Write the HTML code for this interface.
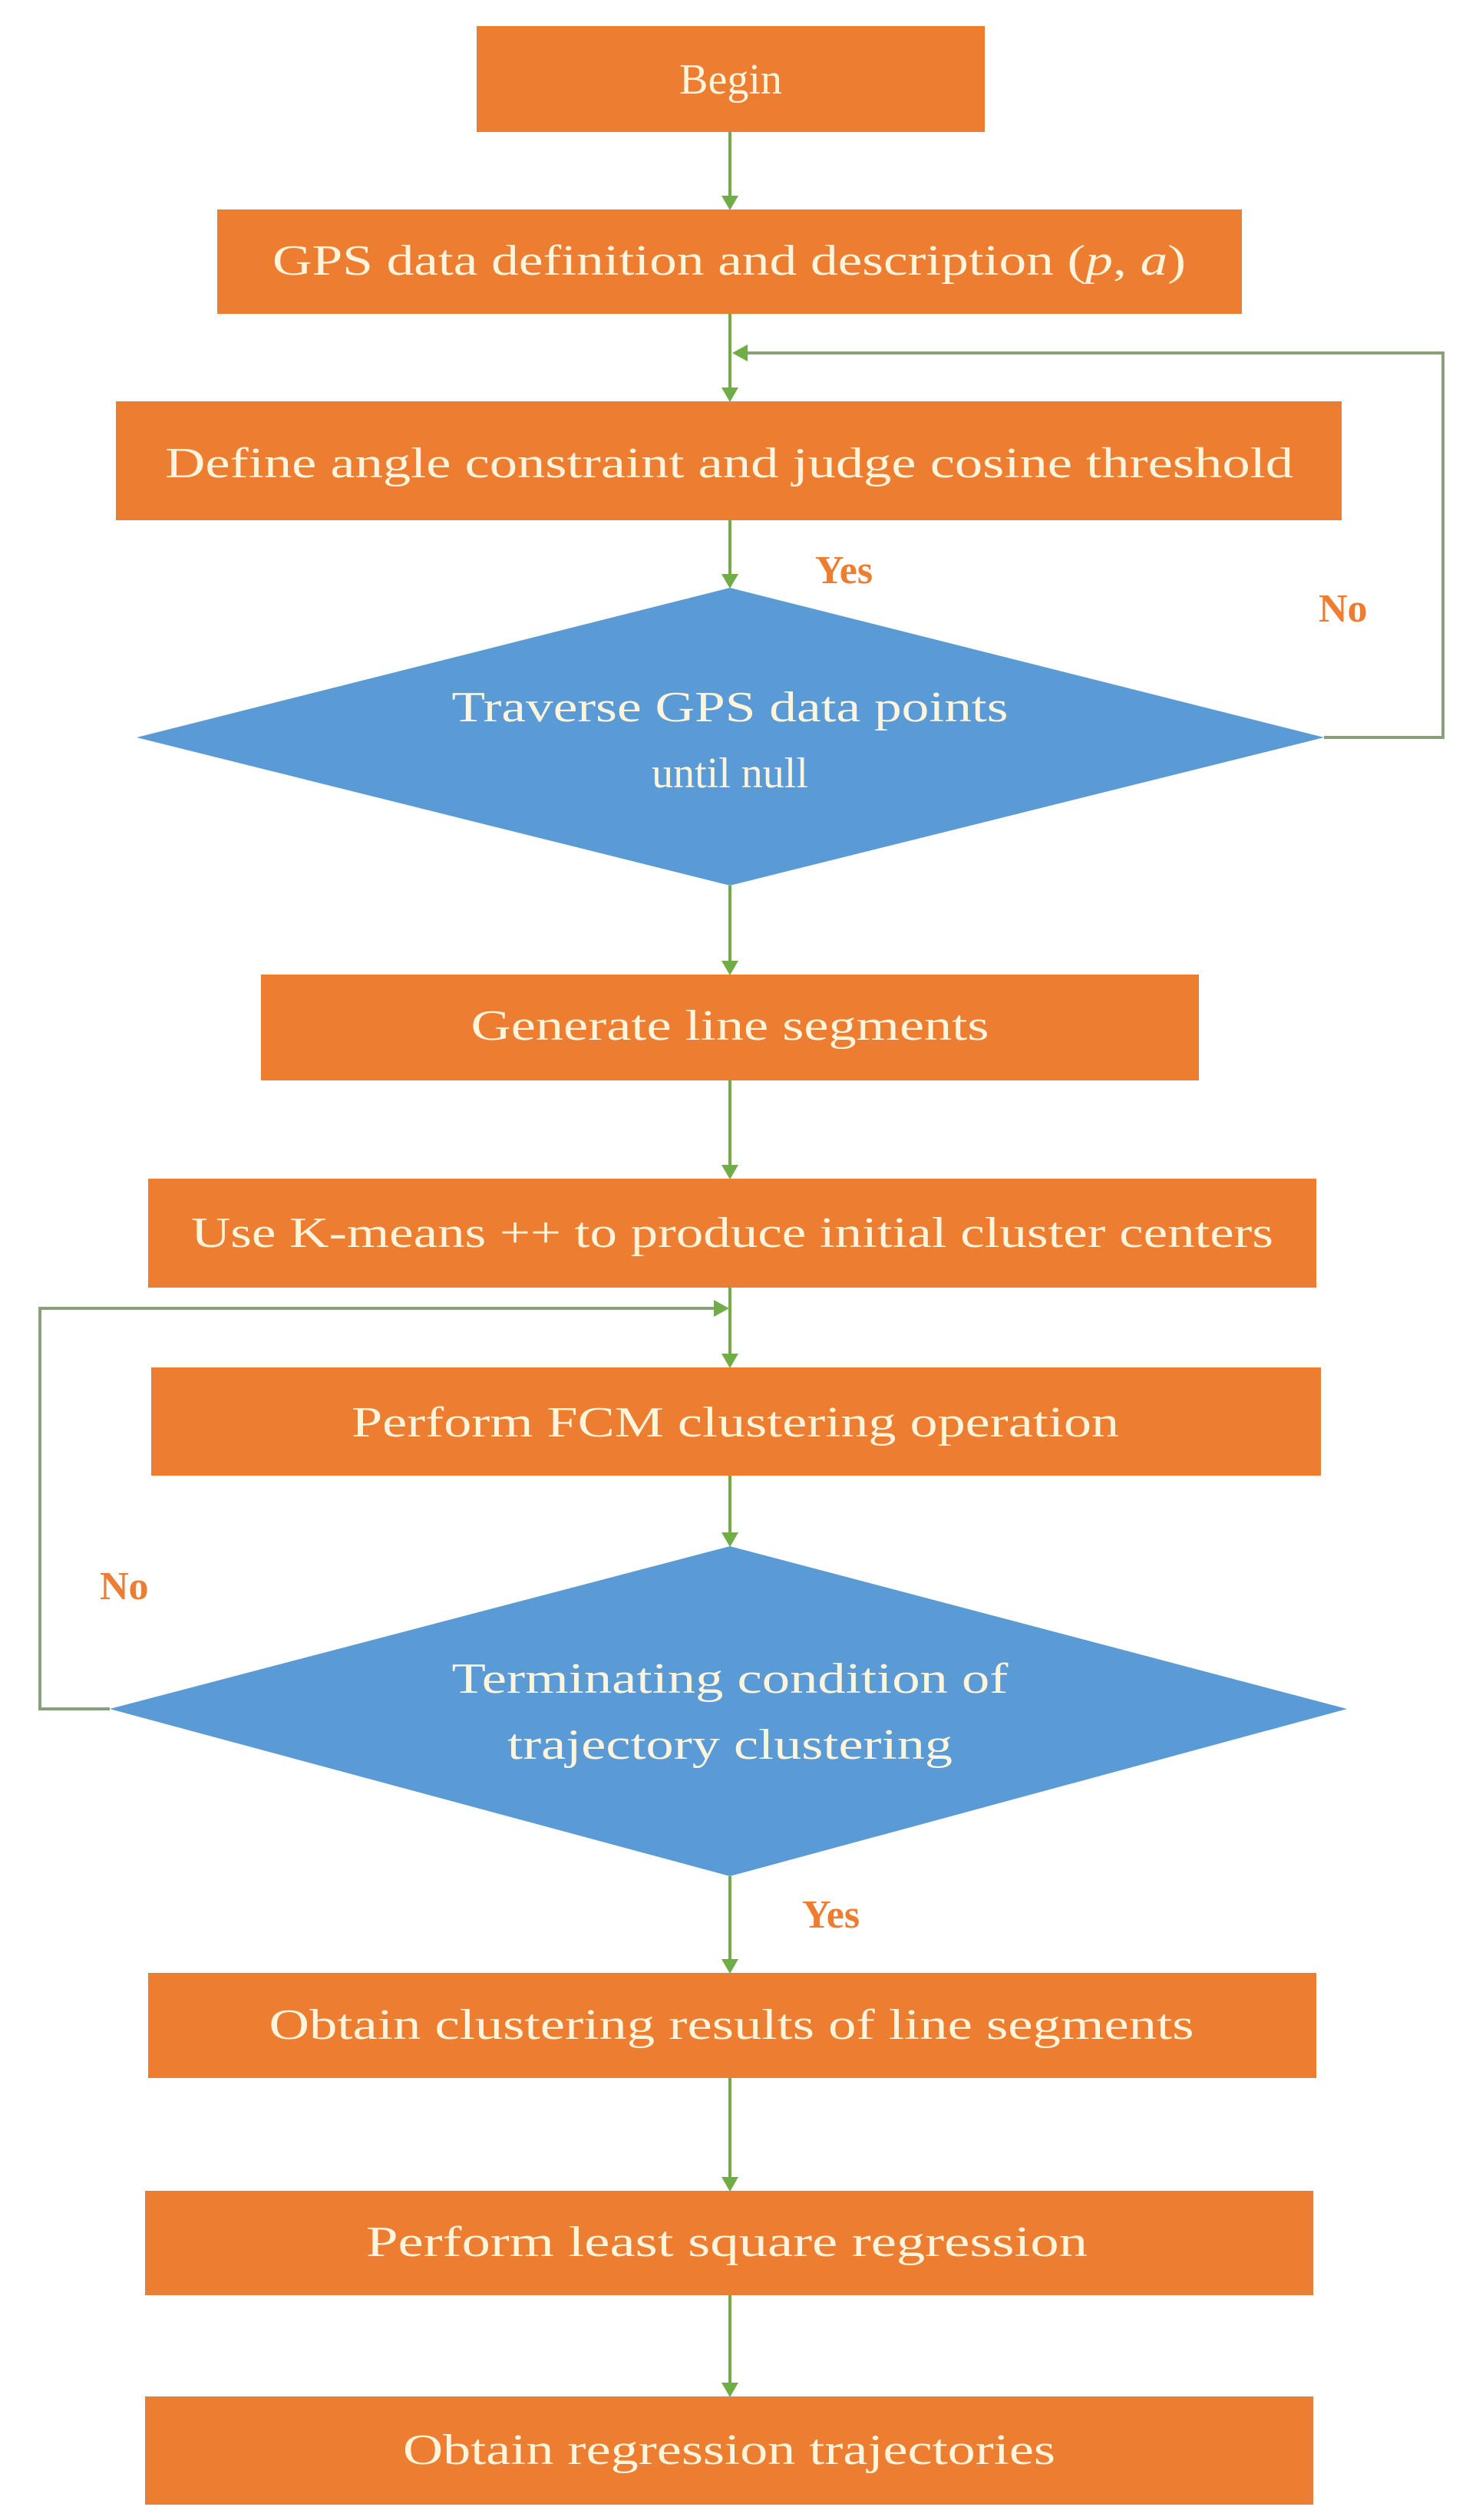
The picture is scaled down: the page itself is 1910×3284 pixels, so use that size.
<!DOCTYPE html>
<html><head><meta charset="utf-8"><style>html,body{margin:0;padding:0;background:#fff}svg{display:block}</style></head>
<body>
<svg width="1910" height="3284" viewBox="0 0 1910 3284" xmlns="http://www.w3.org/2000/svg">
<defs>
<marker id="a" markerWidth="10" markerHeight="10" refX="8" refY="5" orient="auto" markerUnits="userSpaceOnUse" viewBox="0 0 10 10">
</marker>
</defs>
<g fill="#ED7D31">
<rect x="621" y="34" width="662" height="138"/>
<rect x="283" y="273" width="1335" height="136"/>
<rect x="151" y="523" width="1597" height="155"/>
<rect x="340" y="1270" width="1222" height="138"/>
<rect x="193" y="1536" width="1522" height="142"/>
<rect x="197" y="1782" width="1524" height="141"/>
<rect x="193" y="2571" width="1522" height="137"/>
<rect x="189" y="2855" width="1522" height="136"/>
<rect x="189" y="3123" width="1522" height="141"/>
</g>
<g fill="#5B9BD5">
<polygon points="951,766 1725,961 951,1154 178,961"/>
<polygon points="951,2015 1755,2227 951,2445 143,2227"/>
</g>
<g stroke="#70AD47" stroke-width="4" fill="none">
<line x1="951" y1="172" x2="951" y2="255"/>
<line x1="951" y1="409" x2="951" y2="508"/>
<line x1="951" y1="678" x2="951" y2="750"/>
<line x1="951" y1="1154" x2="951" y2="1254"/>
<line x1="951" y1="1408" x2="951" y2="1520"/>
<line x1="951" y1="1678" x2="951" y2="1766"/>
<line x1="951" y1="1923" x2="951" y2="2000"/>
<line x1="951" y1="2445" x2="951" y2="2555"/>
<line x1="951" y1="2708" x2="951" y2="2839"/>
<line x1="951" y1="2991" x2="951" y2="3107"/>
<polyline points="1725,961 1880,961 1880,460 966,460" stroke="#8aa07a"/>
<polyline points="143,2227 52,2227 52,1705 936,1705" stroke="#8aa07a"/>
</g>
<g fill="#70AD47">
<polygon points="940,255 962,255 951,274"/>
<polygon points="940,505 962,505 951,524"/>
<polygon points="940,748 962,748 951,767"/>
<polygon points="940,1252 962,1252 951,1271"/>
<polygon points="940,1518 962,1518 951,1537"/>
<polygon points="940,1764 962,1764 951,1783"/>
<polygon points="940,1997 962,1997 951,2016"/>
<polygon points="940,2553 962,2553 951,2572"/>
<polygon points="940,2837 962,2837 951,2856"/>
<polygon points="940,3105 962,3105 951,3124"/>
<polygon points="974,449 974,471 954,460"/>
<polygon points="930,1694 930,1716 950,1705"/>
</g>
<g font-family="'Liberation Serif', serif" fill="#FFF4DC" font-size="56" text-anchor="middle">
<text x="952" y="122">Begin</text>
<text x="950" y="358" textLength="1190" lengthAdjust="spacingAndGlyphs">GPS data definition and description (<tspan font-style="italic">p</tspan>, <tspan font-style="italic">a</tspan>)</text>
<text x="950" y="622" textLength="1470" lengthAdjust="spacingAndGlyphs">Define angle constraint and judge cosine threshold</text>
<text x="951" y="940" textLength="725" lengthAdjust="spacingAndGlyphs">Traverse GPS data points</text>
<text x="951" y="1026">until null</text>
<text x="951" y="1355" textLength="675" lengthAdjust="spacingAndGlyphs">Generate line segments</text>
<text x="954" y="1625" textLength="1410" lengthAdjust="spacingAndGlyphs">Use K-means ++ to produce initial cluster centers</text>
<text x="958" y="1872" textLength="1000" lengthAdjust="spacingAndGlyphs">Perform FCM clustering operation</text>
<text x="951" y="2206" textLength="725" lengthAdjust="spacingAndGlyphs">Terminating condition of</text>
<text x="951" y="2292" textLength="580" lengthAdjust="spacingAndGlyphs">trajectory clustering</text>
<text x="953" y="2657" textLength="1205" lengthAdjust="spacingAndGlyphs">Obtain clustering results of line segments</text>
<text x="947" y="2940" textLength="940" lengthAdjust="spacingAndGlyphs">Perform least square regression</text>
<text x="950" y="3211" textLength="850" lengthAdjust="spacingAndGlyphs">Obtain regression trajectories</text>
</g>
<g font-family="'Liberation Serif', serif" fill="#ED7D31" font-size="52" font-weight="bold">
<text x="1062" y="760">Yes</text>
<text x="1718" y="810">No</text>
<text x="130" y="2084">No</text>
<text x="1045" y="2512">Yes</text>
</g>
</svg>
</body></html>
